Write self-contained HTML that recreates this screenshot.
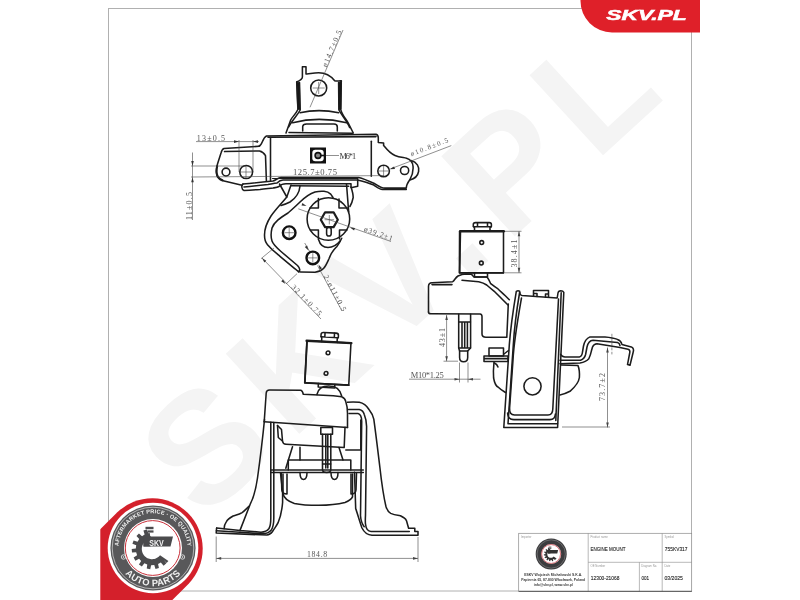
<!DOCTYPE html>
<html><head><meta charset="utf-8">
<style>
html,body{margin:0;padding:0;background:#fff;width:800px;height:600px;overflow:hidden}
svg{display:block;will-change:transform;font-family:"Liberation Sans",sans-serif}
.l{fill:none;stroke:#1c1c1c;stroke-width:1.55;stroke-linejoin:round;stroke-linecap:round}
.t{fill:none;stroke:#111;stroke-width:2.4}
.d{fill:none;stroke:#444;stroke-width:0.6}
.c{fill:none;stroke:#444;stroke-width:0.6}
.dt{font-family:"Liberation Serif",serif;fill:#555;font-size:9px}
.tb{fill:#333;font-size:3px}
.tv{fill:#222;font-size:5.2px}
</style></head>
<body>
<svg width="800" height="600" viewBox="0 0 800 600">
<!-- frame -->
<rect x="108.5" y="8.5" width="583" height="582.5" fill="none" stroke="#b0b0b0" stroke-width="1"/>
<!-- red tab -->
<path d="M580.5,0 L700,0 L700,32.4 L612,32.4 A31.5,31.5 0 0 1 580.5,0.9 Z" fill="#df2029"/>
<text x="606.3" y="19.7" font-size="15.2" font-weight="bold" font-style="italic" fill="#fff" stroke="#fff" stroke-width="0.55" textLength="80.5" lengthAdjust="spacingAndGlyphs">SKV.PL</text>


<g id="wm">
<text transform="translate(203,522) rotate(-42.5)" font-size="158" font-weight="bold" fill="#f4f4f4" letter-spacing="14.5">SKV.PL</text>
</g>

<!-- ===== UPPER COMPONENT ===== -->
<g class="l">
<!-- ear -->
<path d="M296.7,82 C299,81 302.4,79 302.4,77 L302.4,66.7 L306,66.7 L306,74 C309,74.5 312,72.7 318.7,72.7 C326,72.7 331,76 334.7,80.7 C337,81.5 339,81 341.3,80.7 L340.7,109.3 C342,115 346,119 348,122.7 L353.3,133"/>
<path d="M296.7,82 L298,109.3 C296,114 292,117 290.7,120 L286,133"/>
<path d="M299.5,82.5 L300.2,110 C297,116 291.5,121 288.7,127"/>
<path d="M296.9,82.2 L299.4,82.5 L300.1,109.5 L298,109.3 Z" fill="#161616" stroke-width="0.8"/>
<path d="M341.2,81 L338.7,82.5 L338.9,109.5 L340.7,109.3 Z" fill="#161616" stroke-width="0.8"/>
<path d="M338.6,82.5 L338.9,110 C342,116 347,121 349.6,127.5"/>
<path d="M300,112.7 Q318.7,108.5 338.7,112.7"/>
<path d="M292.7,122.7 Q318.7,116 346.7,122.7"/>
<path d="M302.7,131 L302.7,126.5 Q303,124 306.5,124 L334,124 Q337.3,124 337.3,127 L337.3,131"/>
<path d="M289,132.5 L352.5,133.3"/>
<circle cx="318.7" cy="88" r="8"/>
<!-- plate top -->
<path d="M259,146.3 C262.5,145 262.5,137.5 266.5,136 L376,134.3 C377.5,134.8 378.3,136 378.3,137.8 L378.3,142.5 L383.6,143 L383.6,145.4 C386.5,149 390,153.5 395,155.5 C400,157.5 404,157.5 406.5,158.3 C410.5,159.5 412.5,162 413,166 C413.5,171 412,176 409.8,179.8 C407.5,183 406.3,185 406.3,188.1 L385,188.1 C381,188.1 378,185.8 375,183.8 C371,182 363,178.5 358.8,177.5 L281,177.5 C278,177.6 276,180.2 273,181 C262,182.2 250,183.4 243,184"/>
<path d="M272.5,178.5 L358,178.5" stroke-width="1"/>
<path d="M268,137.2 L376,136.6" />
<path d="M411,160.5 C417,162 419.5,167 418.6,171.5 C417.8,176 414,179 409.8,180"/>
<!-- left flange -->
<path d="M259,146.3 L224,148.5 C222.5,149 221.5,151 221,153 L217.5,164 C216.2,168 216,172 216.8,175 C217.5,177.5 219.5,179.5 222,180.5 L242,185.3"/>
<path d="M217.2,166 C216.3,170 216.5,174 217.8,176.5 C219,178.5 220.5,179.5 222.5,180.3" stroke-width="2"/>
<path d="M224.5,151.6 L259.5,151 C262,151.5 264,153 265.5,155.6 L266.4,181"/>
<path d="M244,187 C252,186.3 262,185.2 268,184.5 C272,183.8 275,183.2 277,183 C279,181 280,180 283,180 L357.5,180 C362,180.6 368,183 373.8,185 C376.5,186.8 379.5,189.4 382.5,189.4 L406.3,189.4"/>
<path d="M243,184 C241.3,185 241.3,189.5 244,190.5 C250,190 258,189.6 260,189.5 C265,189 270,188.3 273,188 C276,187.6 277.5,187.5 279,186.5 C281,184.5 283,183.8 286,183.8 L351,183.8 L351,187.4"/>
<path d="M291.4,185.7 L348.7,186.2"/>
<path d="M357.7,179.5 L357.7,186.2 L352.1,187.4"/>
<!-- plate box verticals -->
<path d="M270.5,137.5 L270.5,180.5"/>
<path d="M371.3,141.3 L371.3,176.3"/>
<!-- lower arm -->
<path d="M286.8,197 C282,203 276,209 271,216 C266.5,223 264.5,229 264.5,235 C264.5,239.5 265.5,242.5 267.5,244.7 C272,250 276,253 280,256.3 L295,268.8 C297,271 298.5,272 300.5,272 L315,272.2 C319,271.8 321.5,270.5 323.5,268.5 C326,266 327.5,262 329.2,258.3 C330.5,255 331,253.5 332.5,251.7 C334,249.5 335.5,248 336.7,246.7 C339,244 340.5,241 341.7,238.3"/>
<path d="M333,197.5 L330.7,194.1 C329,192.5 327,191.6 324,191.3 C321,191.1 318,191.3 315,191.9 C310,193.5 305,197 300,202 C296,206 292,209.5 288,213 C280,218 274,222 272,228 C270.8,233 271,238 272,241 C273,244 277,248 281,251.5 L297.5,265.5 C300,268 300.5,271 298.5,272"/>
<path d="M300,186 C299.5,192 296,198 290,202 C286,204 283,205 281,205.5"/>
<path d="M279.5,184 L286.8,197 L291,185"/>


<path d="M346.5,184 L348.7,212"/>
<path d="M351,187 C352,190 353.2,194 353.2,197.5 C352.5,201 351.5,204 349.9,206.5"/>
<circle cx="328.4" cy="219" r="21.3"/>
<path d="M318.4,198.5 L318.4,208 L310,208"/>
<path d="M339,199 L339,208 L347.5,208"/>
<path d="M310.5,230 L318.4,230 L318.4,239.5"/>
<path d="M347,230 L339.5,230 L339.5,239"/>
<path d="M318.75,240 C320,244.5 323,247.3 328,247.5 C333,247.5 337,245 340.3,240.8"/>
<path d="M337.8,219.7 L333.6,227.1 L325.1,227.1 L320.8,219.7 L325.1,212.3 L333.6,212.3 Z" stroke-width="2.2"/>
<rect x="326.6" y="227.2" width="4.6" height="8.8" rx="2.3"/>
</g>
<g class="t">
<circle cx="289.2" cy="232.7" r="6.3"/>
<circle cx="312.8" cy="257.9" r="6.3"/>
</g>
<g class="c">
<path d="M329.3,215 L329.3,224.4 M324.6,219.7 L334,219.7"/>
<path d="M289.2,228 L289.2,237.4 M284.5,232.7 L293.9,232.7"/>
<path d="M312.8,253.2 L312.8,262.6 M308.1,257.9 L317.5,257.9"/>
<path d="M318.7,82 L318.7,94 M312.7,88 L324.7,88"/>
<path d="M383.6,166 L383.6,176 M378.6,171 L388.6,171"/>
<path d="M246,166 L246,178 M240,172 L252,172"/>
</g>
<g class="l">
<circle cx="226" cy="172" r="3.9"/>
<ellipse cx="246.2" cy="172" rx="6.4" ry="6.6"/>
<circle cx="383.6" cy="171" r="5.8"/>
<circle cx="404.6" cy="170.5" r="4.1"/>
</g>
<!-- M6 square -->
<rect x="310" y="147.5" width="16" height="16" fill="#111"/>
<rect x="312.3" y="149.8" width="11.4" height="11.4" rx="3" fill="#fff"/>
<circle cx="318" cy="155.5" r="2.9" fill="#888" stroke="#111" stroke-width="1.6"/>
<path d="M320.5,155.5 L326,155.5" stroke="#111" stroke-width="1.6"/>
<!-- dims upper -->
<path fill="#333" d="M262.0,258.0 L266.3,260.8 L264.4,262.6 Z M285.5,284.0 L281.2,281.2 L283.1,279.4 Z M318.5,264.5 L322.0,268.3 L319.7,269.5 Z M308.5,250.5 L304.8,246.9 L307.1,245.5 Z"/>

<g class="d">
<path d="M310,107.3 L343,30"/>
<path d="M196,141.6 L259,141.6"/>
<path d="M239,140 L239,172 M253,140 L253,172"/>
<path d="M191,166 L246,166"/>
<path d="M191,177 L384,175.6"/>
<path d="M192.5,152.5 L192.5,220"/>
<path d="M326,155.5 L339,155.5"/>
<path d="M391,168.7 L451.3,145.6"/>
<path d="M298.3,208.8 L391,241.5"/>
<path d="M262,258 L321,319 M261,258.7 L274,248 M286,284 L297,273.7"/>
<path d="M317.5,265.5 L342,311 M304.7,243 L310,252"/>
</g>
<g fill="#333">
<path d="M239,141.6 l-5,-1.3 l0,2.6 z M253,141.6 l5,-1.3 l0,2.6 z"/>
<path d="M192.5,166 l-1.3,-5 l2.6,0 z M192.5,177.3 l-1.3,5 l2.6,0 z"/>
<path d="M350,227.5 l5,0.6 l-0.9,2.4 z"/>
<path d="M306.5,206 l-5,-0.6 l0.9,-2.4 z"/>
<path d="M389.5,169.3 l4.6,-2.7 l0.9,2.3 z"/>
</g>
<g class="dt">
<text x="196.8" y="140.5" font-size="8" textLength="28.3" lengthAdjust="spacing">13±0.5</text>
<text x="293" y="174.8" font-size="8.6" textLength="44" lengthAdjust="spacing">125.7±0.75</text>
<text x="339.5" y="158.8" font-size="8.2" textLength="16.5" lengthAdjust="spacing" fill="#333">M6*1</text>
<text transform="translate(192,220) rotate(-90)" font-size="8" textLength="28" lengthAdjust="spacing">11±0.5</text>
<text transform="translate(326.5,67.5) rotate(-66.9)" font-size="7.5" textLength="39" lengthAdjust="spacing">ø14.7±0.5</text>
<text transform="translate(411.5,156.3) rotate(-21)" font-size="7" textLength="40" lengthAdjust="spacing">ø10.8±0.5</text>
<text transform="translate(363.5,231) rotate(19.2)" font-size="7.5" textLength="30" lengthAdjust="spacing">ø39.2±1</text>
<text transform="translate(291,287.5) rotate(46)" font-size="7.5" textLength="40" lengthAdjust="spacing">32.1±0.75</text>
<text transform="translate(323.5,276.5) rotate(62)" font-size="7.5" textLength="40" lengthAdjust="spacing">2-ø11±0.5</text>
</g>

<!-- ===== RIGHT COMPONENT ===== -->
<g class="l">
<!-- block -->
<path d="M460.5,231.3 L503.5,231.3 L503.5,272.8 L459.6,272.8 Z"/>
<path d="M460.2,231.3 L503.8,231.3" stroke-width="2.4"/>
<path d="M459.8,272.8 L503.6,272.8 M459.7,231.5 L459.5,272.8" stroke-width="1.8"/>
<path d="M474.5,231.3 L474.5,227.5 L473.3,226.5 L473.3,224.5 Q473.3,222.6 475.5,222.6 L489.3,222.6 Q491.4,222.6 491.4,224.5 L491.4,226.5 L490,227.5 L490,231.3"/>
<path d="M473.5,226.8 L491.2,226.8 M477.5,222.8 L477.5,226.8 M487.5,222.8 L487.5,226.8"/>
<circle cx="481.7" cy="242.5" r="1.9"/>
<circle cx="481.3" cy="263" r="1.9"/>
<path d="M474.5,272.8 L474.5,277 L487.5,277 L487.5,272.8"/>
<!-- bracket body -->
<path d="M428.5,312 L428.5,286.5 Q428.5,283 432,282.8 L452.7,281.7 C454.5,280.5 455.5,277.5 458,276 C460,275 463,274 466,274 L471.5,274.3 C472.5,275 473,276.5 474,277 L486.7,277 C488,277.5 489,280 490.7,283.7 C493,285.5 495,287 497.3,288.3 C500,291 503,293.5 505.3,295.7 L509.3,299.7"/>
<path d="M432,284.6 L452,284.6"/>
<path d="M462,280.3 L478.7,281.7 C482,282.5 484.5,283.5 486.7,285 C489.5,287.5 492,289.5 494.7,291.7 C497.5,294.5 500,297 502.7,299.7 L508,305"/>
<path d="M428.5,312 Q428.5,313.8 431,313.8 L480,314 Q482,314.2 482,316.5 L482,334 Q482,337.2 486,337.2 L506.5,337.2"/>
<path d="M508.3,304 L506.8,337.2"/>
<!-- stud -->
<path d="M458.7,314.2 L458.7,348 L459.6,351 L459.6,357.5 Q459.6,361.8 463.6,361.8 Q467.7,361.8 467.7,357.5 L467.7,351 L470.6,348 L470.6,314.2"/>
<path d="M458.9,321.9 L470.4,321.9 M462,322 L462,348 M464.7,322 L464.7,348 M467.4,322 L467.4,348 M458.9,348 L470.4,348 M459.6,351 L467.7,351"/>
<!-- small nut & plate -->
<rect x="489" y="348" width="14.5" height="8"/>
<path d="M484,356 L508,356 L508,361.5 L484,361.5 Z M484,358.6 L507.5,358.6"/>
<path d="M504,354 L508.5,350.5"/>
<path d="M494,362 C493.4,368 493.3,374 493.6,378 C494.5,383 496,386 498,387 C500,389 503,391 505.5,392.5"/>
<path d="M494.5,363 C496.5,364 497.5,365.5 498,367"/>
<!-- tall U bracket -->
<path d="M516.3,291.3 C513.5,308 510.5,328 509.3,345 L503.8,427.5 L557.6,427.5 L563.8,292.3 Q563,290.8 560.8,290.8 Q558.3,291 558,293 L557.2,298 L522,295.6 Q520.2,295 520,293.5 L519.6,291.2 Q518,290.3 516.3,291.3 Z"/>
<path d="M519.6,292.5 C517,308 514.3,328 513.3,345 L508,423.8 L557.5,423.8 M561.2,292.8 L555.8,420.5"/>
<path d="M521.5,298 C518,318 514,340 513,360 L509.6,408 Q509.2,415 514.5,415 L548,415 Q552.6,415 552.8,409 L558.5,299"/>
<path d="M507.6,413 Q507.9,419.6 514,419.6 L550,419.6 Q555,419.6 555.4,414"/>
<path d="M533.5,296.3 L533.5,290.5 L548.5,290.5 L548.5,297.2 M533.5,293.5 L537,293.5 L537,296.4 M548.5,294 L545.5,294 L545.5,297"/>
<circle cx="532.5" cy="386.3" r="8.6"/>
<!-- right bulge -->
<path d="M561,365 L578,365.6 Q579.8,370 579.4,377.5 Q578.5,384 570,391.3 Q565,394 560,395"/>
<!-- right strip -->
<path d="M560.6,354.4 Q562,356.9 565,356.9 L579.4,356.9 Q582,356.5 582.5,352 L583.5,346 Q585,339 590,336.9 L605,336.9 Q613,337.5 617.5,339.4 Q621,340.5 621.9,344.4 L631.3,346.9 Q634.5,348.5 633.1,352.5 L630,365.2 L627.5,364.6 L629.8,352.5 Q630.3,349.8 628,349.2 L620,347.5 L597,343.8 Q594,343.8 592.5,347 L591.3,351.3 Q590.5,355 588.8,358.8 Q586,362 580,363.1 L560,363.8"/>
<path d="M560,360.2 L580.5,360.2 Q584.5,359 585.6,354.5 L587,347 Q588.5,340.4 593,340.2 L617.5,342.5 Q619.5,343 620,345.5"/>
</g>
<g class="d">
<path d="M505,231.3 L521.5,231.3 M505,272.8 L521.5,272.8 M519,231.3 L519,272.8"/>
<path d="M446.6,315 L446.6,361.2 M443.5,361.2 L458,361.2"/>
<path d="M409,379.2 L480.5,379.2 M459.5,362.5 L459.5,382.5 M468,362.5 L468,382.5"/>
<path d="M562,427 L610,427 M607.5,347.5 L607.5,427.5"/>
<path d="M611.9,333.8 L611.9,354.4" stroke-dasharray="3,1.5"/>
</g>
<g fill="#444">
<path d="M519,231.3 l-1.3,5 l2.6,0 z M519,272.8 l-1.3,-5 l2.6,0 z"/>
<path d="M446.6,315 l-1.3,5 l2.6,0 z M446.6,361.2 l-1.3,-5 l2.6,0 z"/>
<path d="M459.5,379.2 l-5,-1.3 l0,2.6 z M468,379.2 l5,-1.3 l0,2.6 z"/>
<path d="M607.5,347.5 l-1.3,5 l2.6,0 z M607.5,427.5 l-1.3,-5 l2.6,0 z"/>
</g>
<g class="dt">
<text transform="translate(516.8,267.5) rotate(-90)" font-size="8" textLength="28" lengthAdjust="spacing">38.4±1</text>
<text transform="translate(445,347) rotate(-90)" font-size="8" textLength="19" lengthAdjust="spacing">43±1</text>
<text x="410.7" y="377.8" font-size="8.5" textLength="33" lengthAdjust="spacing">M10*1.25</text>
<text transform="translate(605.3,401) rotate(-90)" font-size="8" textLength="28" lengthAdjust="spacing">73.7±2</text>
</g>

<!-- ===== BOTTOM COMPONENT ===== -->
<g class="l">
<g transform="rotate(3 327.5 362.5)">
<path d="M305.9,341.9 L349.9,341.9 L349.9,384 L305.9,384 Z"/>
<path d="M305.5,341.9 L350.3,341.9" stroke-width="2.4"/>
<path d="M305.9,384 L349.9,384 M305.9,342 L305.9,384" stroke-width="1.8"/>
<path d="M320.5,341.9 L320.5,338 L319.6,337 L319.6,334.8 Q319.6,332.7 322,332.7 L334.5,332.7 Q337,332.7 337,334.8 L337,337 L336,338 L336,341.9"/>
<path d="M319.8,337.2 L336.8,337.2 M323.5,333 L323.5,337 M333,333 L333,337"/>
<circle cx="327.5" cy="352.9" r="1.9"/>
<circle cx="326.6" cy="373.4" r="1.9"/>
<path d="M319.5,384 L319.5,387.5 L336,387.5 L336,384"/>
</g>
<path d="M316.9,394.5 C318,389 322,386 328.8,386 C335,386 340,389 341.6,395.8"/>
<!-- upper housing box -->
<path d="M264.2,421.7 L266.2,393 Q266.5,390 269.5,390 L300.8,390.3 Q302.5,390.8 303.3,394.2 L333.3,395.8 L341.7,396.7 C344.5,398 345.5,400 345.8,401.7 C347,405 347.5,409 347.5,413.3 L347.5,427.5"/>
<path d="M264.2,421.7 L347.5,427.5"/>
<!-- right arm -->
<path d="M347.3,402.3 C351,402 355,402 359.3,402.3 C363,403 366.5,405.5 369,409.5 C371,412 373,415.5 373.8,419.2 C376,435 378,452 379.9,467.5 C381.5,482 383.5,496 385.9,506.2 C387,510 389,512.5 390.7,513.4 C394,514.8 397,515.2 400.4,515.8 C403,517 405.5,518.5 406.5,520.7 L408.6,528.2 L414.8,528.2 L414.8,531.4 L418,531.4 L418,535.3 L372,535.3 C367.5,535 364,532 362,528 C359.5,521 357,512 355.7,508.6 L354.5,472.3"/>
<path d="M348.5,409.5 L359.3,409.5 C361.5,410 363.5,411.5 364.2,414.3 C365.5,417.5 366.5,421 366.6,426.4 L365.5,515 C365.3,519 365.2,522 365.5,524 C366,528.5 368,531.4 371,531.4 L409.3,531.4"/>
<path d="M349,413.5 L358,413.5 C360.5,414 361.7,417 361.7,421.6 L360.5,515.8 C360.8,520 362,524 364.2,526.7"/>
<path d="M345.8,450 L360.8,450 M360.8,420 L360.8,450"/>
<!-- left wall -->
<path d="M264.5,419.5 C262.5,440 260,460 257.5,478 C255.5,492 252.5,500 250,504.7 L239.9,530.6"/>
<path d="M216.6,528 L216.2,533 L266.9,535.1 C269.5,535 271,533.5 272.5,531.5 C275,527.5 277,525 278.1,522.7 C280.5,517 282,510 282.6,502.5 L282.6,491.2 L280.5,473"/>
<path d="M216.6,528 L240,530.5 L261,532.2 C265,532 267.5,530.5 269,528.5 C270.3,526.5 270.8,523 270.8,518 L270.8,422.3"/>
<path d="M216.4,530.8 L240,532.3 L262,533.8 C266.5,533.8 269.5,532.3 271.3,530 C273,527.5 273.8,524 273.8,518 L273.8,422.5"/>

<path d="M248.9,506.4 C246,509 244.5,511 242.1,512.6 C239,514.5 236,515 233.1,516 C229.5,518 227.5,519.5 226.4,521.6 C225,523.5 224.3,525.5 224.1,528.6"/>

<!-- inner structures -->
<path d="M277.5,425.5 L281.5,429.5 L282.5,441 Q283,444.2 286,444.3 L344.2,447.5 L345,427.2"/>
<path d="M277.5,425.5 L278.3,437.5 L282.4,441"/>
<path d="M292.5,446.8 L285.8,468.3 M300,447.3 L300,460 M339,447.5 L343,460"/>
<path d="M288.3,460 L350.8,460 M288.3,460 L288.3,470 M350.8,460 L350.8,470"/>
<path d="M270.8,470 L363.3,470 M270.8,472.5 L363.3,472.5"/>
<path d="M300,472.5 C300,477 301.5,479.5 303.5,479.5 C305.5,479.5 307,477 307,472.5 M331,472.5 C331,477 332.5,479.5 334.5,479.5 C336.5,479.5 338,477 338,472.5"/>
<path d="M283,474 L283,494 C284,498 287,501 294.4,503.4 C302,505 310,505.3 318.8,505.3 C328,505.3 337,504.5 345,502.5 C349,501 351.5,499 352.5,496.9 L352.5,474"/>
<path d="M281.3,473.5 L281.8,490 C282,492.5 284,494 287,494 L287,474 M356.5,473.5 L356,490 C355.8,492.5 354,494 351,494 L351,474"/>
<!-- bolt -->
<path d="M322.5,434.2 L322.5,469.5 Q322.5,472.5 326.7,472.5 Q330.8,472.5 330.8,469.5 L330.8,434.2"/>
<path d="M320.8,427.5 L332.5,427.5 L332.5,434.2 L320.8,434.2 Z"/>
<path d="M325.8,434.5 L325.8,468 M327.8,434.5 L327.8,468 M322.6,464 L330.7,464"/>
</g>
<g class="d">
<path d="M216.2,536.5 L216.2,562 M418,537 L418,562 M216.2,558.4 L418,558.4"/>
</g>
<g fill="#444">
<path d="M216.2,558.4 l5,-1.3 l0,2.6 z M418,558.4 l-5,-1.3 l0,2.6 z"/>
</g>
<g class="dt">
<text x="307" y="557.3" font-size="7.8" textLength="20.2" lengthAdjust="spacing">184.8</text>
</g>

<!-- title block -->
<g id="tblock">
<rect x="518.7" y="533.3" width="173" height="58" fill="#fff" stroke="#8a8a8a" stroke-width="0.7"/>
<line x1="588.2" y1="533.3" x2="588.2" y2="591.3" stroke="#8a8a8a" stroke-width="0.6"/>
<line x1="662.2" y1="533.3" x2="662.2" y2="591.3" stroke="#8a8a8a" stroke-width="0.6"/>
<line x1="639.4" y1="562.3" x2="639.4" y2="591.3" stroke="#8a8a8a" stroke-width="0.6"/>
<line x1="588.2" y1="562.3" x2="691.7" y2="562.3" stroke="#8a8a8a" stroke-width="0.6"/>
<line x1="518.7" y1="591.3" x2="691.7" y2="591.3" stroke="#555" stroke-width="1"/>
<g fill="#999" font-size="2.8">
<text x="521" y="538">Importer</text>
<text x="590.5" y="538.2">Product name</text>
<text x="664.5" y="538.2">Symbol</text>
<text x="590.5" y="567">OE Number</text>
<text x="641.3" y="567">Diagram No.</text>
<text x="664.5" y="567">Date</text>
</g>
<g fill="#222" font-size="6" stroke="#222" stroke-width="0.12">
<text x="590.5" y="551.3" textLength="35" lengthAdjust="spacingAndGlyphs">ENGINE MOUNT</text>
<text x="664.8" y="551.3" textLength="22.7" lengthAdjust="spacingAndGlyphs">755KV317</text>
<text x="590.8" y="579.8" textLength="28.6" lengthAdjust="spacingAndGlyphs">12300-21068</text>
<text x="641.4" y="579.8" textLength="7.6" lengthAdjust="spacingAndGlyphs">001</text>
<text x="664.5" y="579.8" textLength="18.4" lengthAdjust="spacingAndGlyphs">03/2025</text>
</g>
<g font-size="3.4" font-weight="bold" fill="#3a3a3a" text-anchor="middle">
<text x="553.2" y="575.8" textLength="58" lengthAdjust="spacingAndGlyphs">ESKV Wojciech Michałowski S.K.A.</text>
<text x="553.2" y="580.6" textLength="64" lengthAdjust="spacingAndGlyphs">Papiernia 65, 87-800 Włocławek, Poland</text>
<text x="553.2" y="585.5" textLength="39" lengthAdjust="spacingAndGlyphs">info@skv.pl, www.skv.pl</text>
</g>
<g transform="translate(551.2,554) scale(0.345) translate(-153,-548)">
<circle cx="153" cy="548" r="45" fill="#3c3c3e"/>
<circle cx="153" cy="548" r="41" fill="none" stroke="#aaa" stroke-width="1.2"/>
<circle cx="153" cy="548" r="29" fill="#fff"/>
<circle cx="152.7" cy="548" r="27.4" fill="none" stroke="#c8303a" stroke-width="2"/>
<g fill="#333">
<path d="M168.42,560.93 L166.60,563.10 L163.85,560.05 L166.35,563.35 L163.64,565.63 L160.82,562.59 L158.07,564.02 L158.94,568.08 L155.53,568.99 L154.25,565.04 L151.15,565.18 L150.23,569.22 L146.75,568.61 L147.26,564.49 L144.39,563.30 L141.85,566.58 L138.95,564.55 L141.16,561.04 L139.06,558.75 L135.37,560.64 L133.60,557.58 L137.09,555.33 L136.15,552.37 L132.01,552.53 L131.70,549.00 L135.81,548.43 L136.22,545.36 L132.39,543.75 L133.60,540.42 L137.57,541.65 L139.23,539.03 L136.45,535.95 L138.95,533.45 L142.03,536.23 L144.65,534.57 L143.42,530.60 L146.75,529.39 L148.36,533.22 L149.75,532.96 L150.58,538.90 L149.60,539.09 L148.65,539.37 L147.72,539.74 L146.84,540.20 L146.00,540.75 L145.23,541.37 L144.52,542.07 L143.88,542.83 L143.31,543.66 L142.83,544.53 L142.44,545.44 L142.14,546.39 L141.93,547.37 L141.82,548.36 L141.81,549.36 L141.89,550.35 L142.07,551.33 L142.34,552.29 L142.71,553.21 L143.17,554.10 L143.71,554.94 L144.33,555.72 L145.02,556.44 L145.78,557.08 L146.59,557.65 L147.46,558.14 L148.38,558.54 L149.33,558.84 L150.30,559.06 L151.29,559.18 L152.28,559.20 L153.28,559.12 L154.26,558.95 L155.22,558.68 L156.15,558.32 L157.04,557.87 L157.88,557.33 L158.66,556.72 L159.39,556.03 L160.04,555.28 Z"/>
<rect x="145.5" y="526.8" width="8" height="2.4"/>
<rect x="147.5" y="530.4" width="6" height="2.2"/>
<path d="M143.5,536.5 L173,536.5 L170.5,546.5 L143.5,546.5 Z"/>
<path d="M143.5,536 L150.6,536 L150.6,546.5 L143.5,546.5 Z"/>
</g>
</g>
</g>

<g id="badge">
<clipPath id="bc"><rect x="100.3" y="0" width="700" height="600"/></clipPath>
<path clip-path="url(#bc)" d="M117.3,512.3 A50.5,50.5 0 0 1 188.7,583.7 L-11.3,783.7 L-82.7,712.3 Z" fill="#d4202b"/>
<circle cx="153" cy="548" r="45.3" fill="#fff"/>
<circle cx="153" cy="548" r="42.6" fill="#58585a"/>
<circle cx="153" cy="548" r="40.8" fill="none" stroke="#dcdcdc" stroke-width="0.7"/>
<circle cx="153" cy="548" r="29" fill="#fff"/>
<circle cx="152.7" cy="548" r="27.4" fill="none" stroke="#c8303a" stroke-width="1"/>
<defs>
<path id="arcTop" d="M119.5,556 A34.5,34.5 0 1 1 186.5,556"/>
<path id="arcBot" d="M116,556 A37.8,37.8 0 0 0 190,556"/>
</defs>
<text font-size="5.6" font-weight="bold" fill="#f2f2f2" letter-spacing="0.15"><textPath href="#arcTop" startOffset="50%" text-anchor="middle">AFTERMARKET PRICE · OE QUALITY</textPath></text>
<text font-size="9.3" font-weight="bold" fill="#f2f2f2" letter-spacing="0.3"><textPath href="#arcBot" startOffset="50%" text-anchor="middle">AUTO PARTS</textPath></text>
<circle cx="123.5" cy="557" r="2.2" fill="none" stroke="#eee" stroke-width="0.8"/>
<circle cx="123.5" cy="557" r="0.8" fill="#eee"/>
<circle cx="182.5" cy="557" r="2.2" fill="none" stroke="#eee" stroke-width="0.8"/>
<circle cx="182.5" cy="557" r="0.8" fill="#eee"/>
<g fill="#4b4b4d">
<path d="M168.42,560.93 L166.60,563.10 L163.85,560.05 L166.35,563.35 L163.64,565.63 L160.82,562.59 L158.07,564.02 L158.94,568.08 L155.53,568.99 L154.25,565.04 L151.15,565.18 L150.23,569.22 L146.75,568.61 L147.26,564.49 L144.39,563.30 L141.85,566.58 L138.95,564.55 L141.16,561.04 L139.06,558.75 L135.37,560.64 L133.60,557.58 L137.09,555.33 L136.15,552.37 L132.01,552.53 L131.70,549.00 L135.81,548.43 L136.22,545.36 L132.39,543.75 L133.60,540.42 L137.57,541.65 L139.23,539.03 L136.45,535.95 L138.95,533.45 L142.03,536.23 L144.65,534.57 L143.42,530.60 L146.75,529.39 L148.36,533.22 L149.75,532.96 L150.58,538.90 L149.60,539.09 L148.65,539.37 L147.72,539.74 L146.84,540.20 L146.00,540.75 L145.23,541.37 L144.52,542.07 L143.88,542.83 L143.31,543.66 L142.83,544.53 L142.44,545.44 L142.14,546.39 L141.93,547.37 L141.82,548.36 L141.81,549.36 L141.89,550.35 L142.07,551.33 L142.34,552.29 L142.71,553.21 L143.17,554.10 L143.71,554.94 L144.33,555.72 L145.02,556.44 L145.78,557.08 L146.59,557.65 L147.46,558.14 L148.38,558.54 L149.33,558.84 L150.30,559.06 L151.29,559.18 L152.28,559.20 L153.28,559.12 L154.26,558.95 L155.22,558.68 L156.15,558.32 L157.04,557.87 L157.88,557.33 L158.66,556.72 L159.39,556.03 L160.04,555.28 Z"/>
<rect x="145.5" y="526.8" width="8" height="2.4"/>
<rect x="147.5" y="530.4" width="6" height="2.2"/>
<path d="M143.5,536.5 L173,536.5 L170.5,546.5 L143.5,546.5 Z"/>
<path d="M143.5,536 L150.6,536 L150.6,546.5 L143.5,546.5 Z"/>
</g>
<text x="149.3" y="545.8" font-size="8.6" font-weight="bold" fill="#f4f4f4" textLength="14.5" lengthAdjust="spacingAndGlyphs">SKV</text>
</g>

</svg>
</body></html>
